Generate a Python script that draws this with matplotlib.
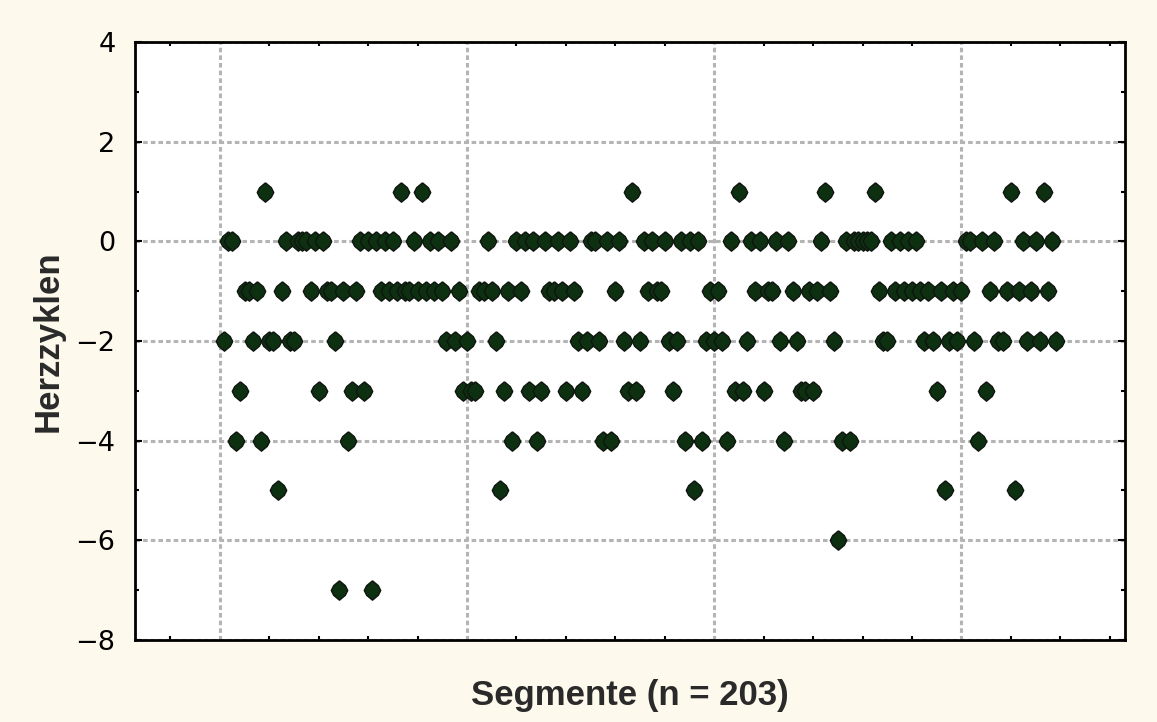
import matplotlib
matplotlib.use("Agg")
import matplotlib.pyplot as plt
import numpy as np
from matplotlib.ticker import MultipleLocator, NullFormatter

# Herzzyklen per segment (n = 203), read in order from the picture
herzzyklen = [
    -2, 0, 0, -4, -3, -1, -1, -2, -1, -4,
    1, -2, -2, -5, -1, 0, -2, -2, 0, 0,
    0, -1, 0, -3, 0, -1, -1, -2, -7, -1,
    -4, -3, -1, 0, -3, 0, -7, 0, -1, 0,
    -1, 0, -1, 1, -1, -1, 0, -1, 1, -1,
    0, -1, 0, -1, -2, 0, -2, -1, -3, -2,
    -3, -3, -1, -1, 0, -1, -2, -5, -3, -1,
    -4, 0, -1, 0, -3, 0, -4, -3, 0, -1,
    -1, 0, -1, -3, 0, -1, -2, -3, -2, 0,
    0, -2, -4, 0, -4, -1, 0, -2, -3, 1,
    -3, -2, 0, -1, 0, -1, -1, 0, -2, -3,
    -2, 0, -4, 0, -5, 0, -4, -2, -1, -2,
    -1, -2, -4, 0, -3, 1, -3, -2, 0, -1,
    0, -3, -1, -1, 0, -2, -4, 0, -1, -2,
    -3, -3, -1, -3, -1, 0, 1, -1, -2, -6,
    -4, 0, -4, 0, 0, 0, 0, 0, 1, -1,
    -2, -2, 0, -1, 0, -1, 0, -1, 0, -1,
    -2, -1, -2, -3, -1, -5, -2, -1, -2, -1,
    0, 0, -2, -4, 0, -3, -1, 0, -2, -2,
    -1, 1, -5, -1, 0, -2, -1, 0, -2, 1,
    -1, 0, -2,
]
segmente = list(range(1, len(herzzyklen) + 1))

y_ticks = [4, 2, 0, -2, -4, -6, -8]
x_grid = [0, 60, 120, 180]

# rounded, slightly tall diamond marker
marker_shape = [(0, 1.0), (0.6, 0.5), (0.85, 0.0), (0.6, -0.5),
                (0, -1.0), (-0.6, -0.5), (-0.85, 0.0), (-0.6, 0.5), (0, 1.0)]

fig = plt.figure(figsize=(11.57, 7.22), dpi=100, facecolor="#fdf9ec")
ax = fig.add_axes([0.1167, 0.1136, 0.8556, 0.8282])
ax.set_facecolor("white")

ax.scatter(segmente, herzzyklen, marker=marker_shape, s=195, facecolor="#0c3010",
           edgecolor="#101510", linewidths=1.0, zorder=3)

ax.set_xlim(-20.6, 219.7)
ax.set_ylim(-8, 4)
ax.set_yticks(y_ticks)
ax.set_yticklabels([f"{v}".replace("-", "\u2212") for v in y_ticks],
                   fontsize=19.5, family="DejaVu Sans", color="#1a1a1a")
ax.yaxis.set_minor_locator(MultipleLocator(1))
ax.set_xticks(x_grid)
ax.xaxis.set_major_formatter(NullFormatter())
ax.xaxis.set_minor_locator(MultipleLocator(12))

ax.tick_params(axis="both", which="both", direction="in", top=True, right=True,
               colors="black", width=1.5)
ax.tick_params(axis="both", which="major", length=5, pad=14)
ax.tick_params(axis="both", which="minor", length=3)
ax.tick_params(axis="x", which="major", length=0)

ax.grid(True, which="major", color="#b4b4b4", linestyle=(0, (1.5, 1)),
        linewidth=2.2, zorder=1)

for sp in ax.spines.values():
    sp.set_linewidth(2.0)
    sp.set_color("black")

ax.set_xlabel("Segmente (n = 203)", fontsize=25, fontweight="bold",
              family="Liberation Sans", color="#2a2a2a", labelpad=14)
ax.set_ylabel("Herzzyklen", fontsize=25, fontweight="bold",
              family="Liberation Sans", color="#2a2a2a", labelpad=8)

fig.savefig("out.png", dpi=100, facecolor=fig.get_facecolor())
